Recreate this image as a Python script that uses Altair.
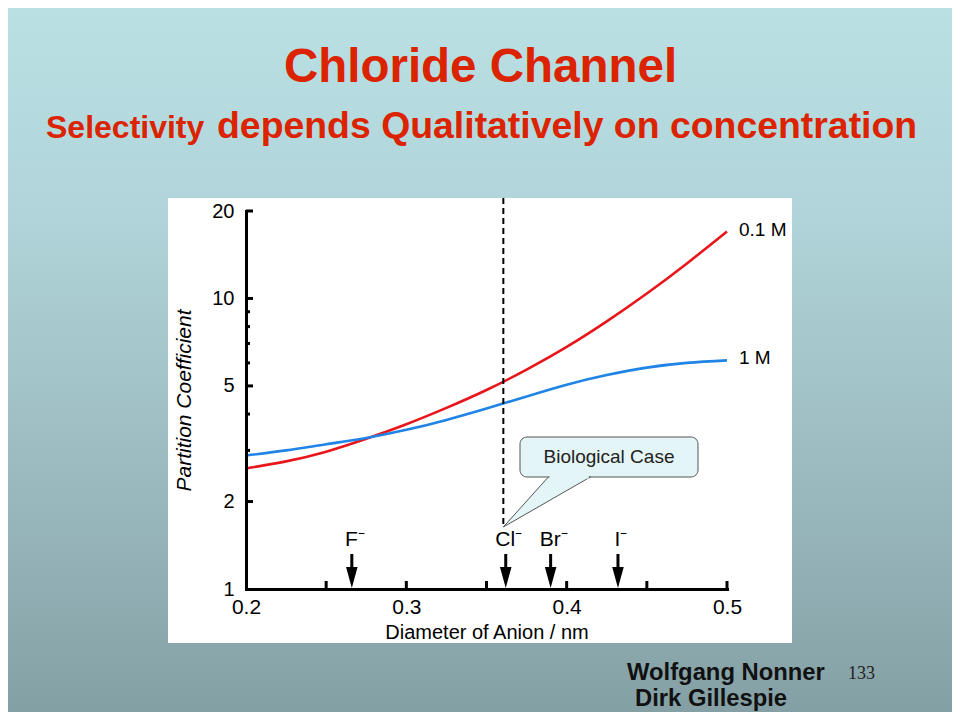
import altair as alt
import pandas as pd

# ---------------- data ----------------
diameter = [0.200, 0.225, 0.250, 0.275, 0.300, 0.325, 0.350, 0.375, 0.400, 0.425, 0.450, 0.475, 0.500]
pc_01M = [2.60, 2.75, 2.97, 3.29, 3.69, 4.20, 4.84, 5.69, 6.81, 8.34, 10.4, 13.2, 17.0]
pc_1M = [2.88, 3.00, 3.15, 3.31, 3.53, 3.82, 4.18, 4.60, 5.05, 5.45, 5.78, 6.00, 6.12]
series_names = ["0.1 M", "1 M"]
series_colors = ["#e8161b", "#1f84e6"]

ion_names = ["F", "Cl", "Br", "I"]
ion_diameter = [0.266, 0.362, 0.390, 0.432]
cl_diameter = [0.3605]

x_label_values = [0.2, 0.3, 0.4, 0.5]
x_tick_values = [0.25, 0.30, 0.35, 0.40, 0.45, 0.50]
y_label_values = [1, 2, 5, 10, 20]
y_major_ticks = [2, 5, 10, 20]
y_minor_ticks = [3, 4, 6, 7, 8, 9]

title_text = "Chloride Channel"
subtitle_small = "Selectivity"
subtitle_big = "depends Qualitatively on concentration"
callout_text = "Biological Case"
author1 = "Wolfgang Nonner"
author2 = "Dirk Gillespie"
slide_no = "133"

# ---------------- tables ----------------
n = len(diameter)
curves = pd.DataFrame({
    "d": diameter * 2,
    "pc": pc_01M + pc_1M,
    "series": [series_names[0]] * n + [series_names[1]] * n,
})
ends = pd.DataFrame({
    "d": [diameter[-1], diameter[-1]],
    "pc": [pc_01M[-1], pc_1M[-1]],
    "series": series_names,
})
ions = pd.DataFrame({"d": ion_diameter, "label": [s + "\u207b" for s in ion_names]})
cl = pd.DataFrame({"d": cl_diameter})
xt = pd.DataFrame({"d": x_tick_values})
ymaj = pd.DataFrame({"pc": y_major_ticks})
ymin = pd.DataFrame({"pc": y_minor_ticks})
one = pd.DataFrame({"k": [0]})

FONT = "Liberation Sans"
RED = "#dc2300"

x_axis = alt.Axis(values=x_label_values, format=".1f", title="Diameter of Anion / nm",
                  ticks=False, grid=False, domainColor="black", domainWidth=3, domainCap="square",
                  labelFontSize=21, labelColor="black", labelPadding=7, labelFlush=False,
                  labelOverlap=False, labelFont=FONT, titleFont=FONT, titleFontSize=20,
                  titleFontWeight="normal", titleColor="black", titlePadding=5, zindex=1)
y_axis = alt.Axis(values=y_label_values, format="d", title="Partition Coefficient",
                  ticks=False, grid=False, domainColor="black", domainWidth=3, domainCap="square",
                  labelFontSize=20, labelColor="black", labelPadding=12, labelOverlap=False,
                  labelFont=FONT, titleFont=FONT, titleFontSize=21, titleFontStyle="italic",
                  titleFontWeight="normal", titleColor="black", titlePadding=17, zindex=1)

xs = alt.Scale(domain=[0.2, 0.5], nice=False, zero=False)
ys = alt.Scale(type="log", domain=[1, 20], nice=False)


def X():
    return alt.X("d:Q", scale=xs, axis=x_axis)


def Y():
    return alt.Y("pc:Q", scale=ys, axis=y_axis)


bg = alt.Chart(one).mark_rect(
    fill=alt.Gradient(gradient="linear", x1=0, x2=0, y1=0, y2=1,
                      stops=[alt.GradientStop(offset=0, color="#bae0e4"),
                             alt.GradientStop(offset=0.3, color="#b0d4d9"),
                             alt.GradientStop(offset=0.65, color="#9cbbc0"),
                             alt.GradientStop(offset=1, color="#84a0a5")])
).encode(x=alt.value(-238), x2=alt.value(706), y=alt.value(-203), y2=alt.value(501))

panel = alt.Chart(one).mark_rect(fill="white").encode(
    x=alt.value(-78), x2=alt.value(546), y=alt.value(-13), y2=alt.value(432))

title = alt.Chart(one).mark_text(text=title_text, font=FONT, fontSize=47.5, fontWeight="bold",
                                 color=RED, align="center", baseline="alphabetic").encode(
    x=alt.value(234.5), y=alt.value(-129))
sub1 = alt.Chart(one).mark_text(text=subtitle_small, font=FONT, fontSize=32, fontWeight="bold",
                                color=RED, align="left", baseline="alphabetic").encode(
    x=alt.value(-200), y=alt.value(-73))
sub2 = alt.Chart(one).mark_text(text=subtitle_big, font=FONT, fontSize=37.4, fontWeight="bold",
                                color=RED, align="left", baseline="alphabetic").encode(
    x=alt.value(-29), y=alt.value(-73))

lines = alt.Chart(curves).mark_line(interpolate="natural", strokeWidth=2.6).encode(
    x=X(), y=Y(),
    color=alt.Color("series:N", scale=alt.Scale(domain=series_names, range=series_colors), legend=None),
)
end_labels = alt.Chart(ends).mark_text(align="left", baseline="middle", dx=12, dy=-2,
                                       fontSize=19, font=FONT, color="black").encode(
    x=X(), y=Y(), text="series:N")

xticks = alt.Chart(xt).mark_rule(color="black", strokeWidth=3).encode(
    x=X(), y=alt.value(370), y2=alt.value(377))
ymajor = alt.Chart(ymaj).mark_rule(color="black", strokeWidth=3).encode(
    y=Y(), x=alt.value(0), x2=alt.value(7))
yminor = alt.Chart(ymin).mark_rule(color="black", strokeWidth=3).encode(
    y=Y(), x=alt.value(0), x2=alt.value(4))

dashed = alt.Chart(cl).mark_rule(color="black", strokeWidth=2, strokeDash=[6, 4]).encode(
    x=X(), y=alt.value(-13), y2=alt.value(316))

callout_box = alt.Chart(one).mark_rect(fill="#e4f5f7", stroke="#555555", strokeWidth=1,
                                       cornerRadius=7).encode(
    x=alt.value(274), x2=alt.value(452), y=alt.value(226), y2=alt.value(266))
pointer = alt.Chart(cl).mark_point(shape="M0,0 L45,-50 L87,-50 Z", size=4, filled=True,
                                   fill="#e4f5f7", stroke="#555555", strokeWidth=1, opacity=1).encode(
    x=X(), y=alt.value(316))
pointer_cover = alt.Chart(one).mark_rect(fill="#e4f5f7").encode(
    x=alt.value(303.5), x2=alt.value(342.8), y=alt.value(264.6), y2=alt.value(267.4))
callout_label = alt.Chart(one).mark_text(text=callout_text, font=FONT, fontSize=19, color="#222222",
                                         align="center", baseline="middle").encode(
    x=alt.value(363), y=alt.value(246))

shafts = alt.Chart(ions).mark_rule(color="black", strokeWidth=3).encode(
    x=X(), y=alt.value(343), y2=alt.value(357))
heads = alt.Chart(ions).mark_point(shape="M-0.55,-1 L0.55,-1 L0,1 Z", size=441, filled=True,
                                   color="black", opacity=1).encode(
    x=X(), y=alt.value(366.5))
ion_labels = alt.Chart(ions).mark_text(fontSize=21, font=FONT, color="black", align="center",
                                       baseline="middle", dx=3).encode(
    x=X(), y=alt.value(329), text="label:N")

auth1 = alt.Chart(one).mark_text(text=author1, font=FONT, fontSize=23.8, fontWeight="bold",
                                 color="#111111", align="left", baseline="alphabetic").encode(
    x=alt.value(381), y=alt.value(469))
auth2 = alt.Chart(one).mark_text(text=author2, font=FONT, fontSize=23.8, fontWeight="bold",
                                 color="#111111", align="left", baseline="alphabetic").encode(
    x=alt.value(389), y=alt.value(495))
num = alt.Chart(one).mark_text(text=slide_no, font="Liberation Serif", fontSize=18,
                               color="#222222", align="left", baseline="alphabetic").encode(
    x=alt.value(602), y=alt.value(468))

chart = alt.layer(
    bg, panel, title, sub1, sub2,
    lines, end_labels, xticks, ymajor, yminor,
    dashed, callout_box, pointer, pointer_cover, callout_label,
    shafts, heads, ion_labels, auth1, auth2, num,
).properties(width=481, height=378, padding=0, background="#a6c6cb").configure_view(
    stroke="transparent").configure(font=FONT)

chart.save("out.html", embed_options={"renderer": "svg", "actions": False})
